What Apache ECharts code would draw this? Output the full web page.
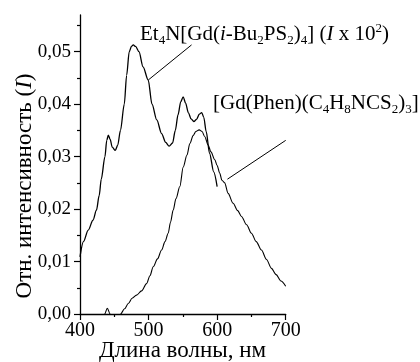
<!DOCTYPE html>
<html>
<head>
<meta charset="utf-8">
<script src="https://cdn.jsdelivr.net/npm/echarts@6/dist/echarts.min.js"></script>
<style>
html,body{margin:0;padding:0;background:#fff;}
#chart{width:420px;height:362px;}
</style>
</head>
<body>
<div id="chart"></div>
<script>
// Et4N[Gd(i-Bu2PS2)4] (I x 10^2)
var wavelength1 = [400,405,412,419,424,428,431,436.4,439,441.3,444,447,451.5,455,459,464.6,468,471.8,475,477.7,481,486,492,499.5,505,512,519,525,530,535,539,543,547,550.5,554,558,562,566,570,574,577.5,580.5,584,589,595,600];
var intensity1 = [0.0109,0.0138,0.0160,0.0179,0.0198,0.0226,0.0257,0.0300,0.0331,0.0341,0.0333,0.0318,0.0312,0.0322,0.0350,0.0400,0.0455,0.0500,0.0510,0.0513,0.0510,0.0500,0.0471,0.0446,0.0400,0.0370,0.0344,0.0327,0.0320,0.0326,0.0350,0.0380,0.0405,0.0414,0.0402,0.0384,0.0372,0.0367,0.0371,0.0381,0.0384,0.0375,0.0348,0.0306,0.0271,0.0243];
// [Gd(Phen)(C4H8NCS2)3]
var wavelength2 = [430,436,439.8,444,449,455,459.2,465,470.4,476,482.5,489.8,497.1,502,506.8,513,519,524,528.6,532,535.9,540,545.6,550.5,556,560.2,565,569,573.8,578,582,586.9,591,596.6,600,603.9,607,611,616,623.3,630,635.5,643,650,657,664.6,672,679.2,686,693,700];
var intensity2 = [-0.003,0,0.0011,0,-0.003,-0.002,0,0.0010,0.0020,0.0030,0.0036,0.0044,0.0058,0.0073,0.0090,0.0105,0.0122,0.0138,0.0154,0.0175,0.0198,0.0220,0.0243,0.0280,0.0303,0.0325,0.0340,0.0348,0.0351,0.0348,0.0338,0.0322,0.0309,0.0294,0.0283,0.0268,0.0255,0.0250,0.0230,0.0211,0.0197,0.0186,0.0170,0.0154,0.0138,0.0122,0.0104,0.0087,0.0075,0.0063,0.0053];

var xTicks = [400,500,600,700];
var yMajorTicks = [0,0.01,0.02,0.03,0.04,0.05];
var yMinorTicks = [0.005,0.015,0.025,0.035,0.045,0.055];

// leader lines (data coordinates)
var leader1 = [[499.5,0.0446],[562.7,0.0513]];
var leader2 = [[615,0.0257],[700,0.0331]];

function pairs(xs, ys){ return xs.map(function(x,i){ return [x, ys[i]]; }); }

var FONT = '"Liberation Serif", "Times New Roman", serif';
var chart = echarts.init(document.getElementById('chart'), null, {renderer:'canvas'});

var subPad = 12;
var richBase = {
  m: {fontSize:21, fontFamily:FONT, color:'#000'},
  i: {fontSize:21, fontFamily:FONT, color:'#000', fontStyle:'italic'},
  s: {fontSize:13, fontFamily:FONT, color:'#000', padding:[subPad,0,0,0]},
  p: {fontSize:13, fontFamily:FONT, color:'#000', padding:[0,0,subPad,0]}
};
var richTitle = {
  m: {fontSize:23, fontFamily:FONT, color:'#000'},
  i: {fontSize:23, fontFamily:FONT, color:'#000', fontStyle:'italic'}
};

chart.setOption({
  animation:false,
  backgroundColor:'#fff',
  textStyle:{fontFamily:FONT, color:'#000'},
  grid:{left:80, top:15, width:205.7, height:299, containLabel:false, outerBoundsMode:'none'},
  xAxis:{
    type:'value', min:400, max:700, interval:100,
    axisLine:{show:true, onZero:false, lineStyle:{color:'#000', width:1.3}},
    axisTick:{show:true, length:6, lineStyle:{color:'#000', width:1.2}, customValues: xTicks},
    minorTick:{show:true, splitNumber:2, length:3, lineStyle:{color:'#000', width:1.2}},
    splitLine:{show:false}, minorSplitLine:{show:false},
    axisLabel:{fontSize:20, fontFamily:FONT, color:'#000', margin:7, customValues: xTicks}
  },
  yAxis:[{
    type:'value', min:0, max:0.057, interval:0.01, position:'left', offset:0,
    axisLine:{show:true, onZero:false, lineStyle:{color:'#000', width:1.3}},
    axisTick:{show:true, length:6, lineStyle:{color:'#000', width:1.2}, customValues: yMajorTicks},
    splitLine:{show:false},
    axisLabel:{fontSize:19, fontFamily:FONT, color:'#000', margin:9, customValues: yMajorTicks,
      formatter:function(v){ return v.toFixed(2).replace('.', ','); }}
  },{
    type:'value', min:0, max:0.057, interval:0.01, position:'left', offset:0,
    axisLine:{show:false},
    axisTick:{show:true, length:3, lineStyle:{color:'#000', width:1.2}, customValues: yMinorTicks},
    splitLine:{show:false},
    axisLabel:{show:false}
  }],
  series:[{
    type:'line', data:pairs(wavelength1,intensity1), showSymbol:false, symbol:'none',
    smooth:0.3, smoothMonotone:'x', clip:true,
    lineStyle:{color:'#000', width:1.3},
    markLine:{silent:true, symbol:'none', label:{show:false}, lineStyle:{color:'#000', width:1, type:'solid'},
      data:[[{coord:leader1[0]},{coord:leader1[1]}]]}
  },{
    type:'line', data:pairs(wavelength2,intensity2), showSymbol:false, symbol:'none',
    smooth:0.3, smoothMonotone:'x', clip:true,
    lineStyle:{color:'#000', width:1.1},
    markLine:{silent:true, symbol:'none', label:{show:false}, lineStyle:{color:'#000', width:1, type:'solid'},
      data:[[{coord:leader2[0]},{coord:leader2[1]}]]}
  }],
  graphic:[{
    type:'text', left:140, top:22, z:10,
    style:{text:'{m|Et}{s|4}{m|N[Gd(}{i|i}{m|-Bu}{s|2}{m|PS}{s|2}{m|)}{s|4}{m|] (}{i|I}{m| x 10}{p|2}{m|)}', rich:richBase}
  },{
    type:'text', left:213, top:93, z:10,
    style:{text:'{m|[Gd(Phen)(C}{s|4}{m|H}{s|8}{m|NCS}{s|2}{m|)}{s|3}{m|]}', rich:richBase}
  },{
    type:'text', x:25, y:186, rotation:Math.PI/2, z:10,
    style:{text:'{m|Отн. интенсивность (}{i|I}{m|)}', rich:richTitle, align:'center', verticalAlign:'middle'}
  },{
    type:'text', x:182.5, y:351, z:10,
    style:{text:'Длина волны, нм', font:'23px "Liberation Serif", serif', fill:'#000', align:'center', verticalAlign:'middle'}
  }]
});
</script>
</body>
</html>
